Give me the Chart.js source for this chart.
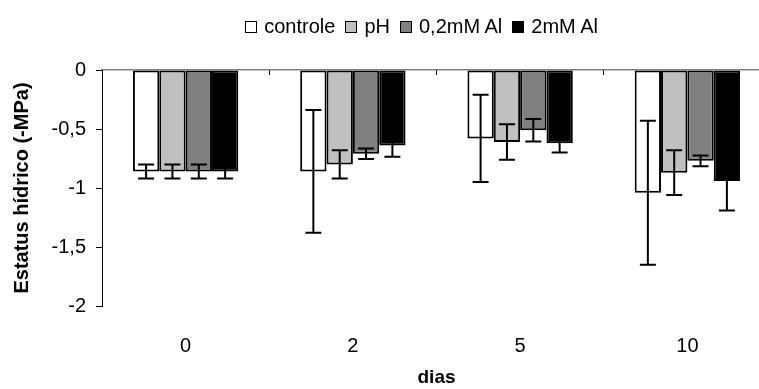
<!DOCTYPE html>
<html lang="pt">
<head>
    <meta charset="UTF-8">
    <title>Estatus hídrico</title>
    <script src="https://cdn.jsdelivr.net/npm/chart.js"></script>
    <style>
        html, body {
            margin: 0;
            padding: 0;
            width: 759px;
            height: 389px;
            overflow: hidden;
            background: #fff;
            font-family: "Liberation Sans", Arial, sans-serif;
        }
        #wrap {
            position: relative;
            width: 771px;
            height: 389px;
        }
        #legend {
            position: absolute;
            top: 14px;
            right: 173px;
            font-size: 20px;
            line-height: 24px;
            color: #000;
            white-space: nowrap;
        }
        #legend span.box {
            display: inline-block;
            width: 10px;
            height: 10px;
            border: 1.5px solid #000;
            margin-right: 7px;
            vertical-align: 0px;
        }
        #legend span.item {
            margin-left: 10px;
        }
    </style>
</head>
<body>
    <div id="wrap">
        <canvas id="chart" width="771" height="389"></canvas>
        <div id="legend"></div>
    </div>

    <script>
        // categories (days)
        const dias = ['0', '2', '5', '10'];
        const seriesNames = ['controle', 'pH', '0,2mM Al', '2mM Al'];
        const seriesColors = ['#ffffff', '#c0c0c0', '#808080', '#000000'];

        // water status (-MPa) and error bars
        const controle = [-0.86, -0.86, -0.58, -1.04];
        const controleErr = [0.06, 0.52, 0.37, 0.61];
        const ph = [-0.86, -0.80, -0.61, -0.87];
        const phErr = [0.06, 0.12, 0.15, 0.19];
        const al02 = [-0.86, -0.71, -0.51, -0.77];
        const al02Err = [0.06, 0.045, 0.095, 0.045];
        const al2 = [-0.86, -0.64, -0.62, -0.94];
        const al2Err = [0.06, 0.095, 0.08, 0.25];

        const values = [controle, ph, al02, al2];
        const errors = [controleErr, phErr, al02Err, al2Err];

        // legend
        const legendDiv = document.getElementById('legend');
        legendDiv.innerHTML = seriesNames.map((name, i) =>
            `<span class="item"><span class="box" style="background:${seriesColors[i]}"></span>${name}</span>`
        ).join('');

        const errorBars = {
            id: 'errorBars',
            afterDatasetsDraw(chart) {
                const ctx = chart.ctx;
                const yScale = chart.scales.y;
                ctx.save();
                ctx.strokeStyle = '#000';
                ctx.lineWidth = 2;
                chart.data.datasets.forEach((ds, di) => {
                    const meta = chart.getDatasetMeta(di);
                    meta.data.forEach((bar, i) => {
                        const v = ds.data[i];
                        const e = errors[di][i];
                        const yTop = yScale.getPixelForValue(v + e);
                        const yBot = yScale.getPixelForValue(v - e);
                        const x = bar.x;
                        ctx.beginPath();
                        ctx.moveTo(x, yTop);
                        ctx.lineTo(x, yBot);
                        ctx.moveTo(x - 8, yTop);
                        ctx.lineTo(x + 8, yTop);
                        ctx.moveTo(x - 8, yBot);
                        ctx.lineTo(x + 8, yBot);
                        ctx.stroke();
                    });
                });
                ctx.restore();
            }
        };

        const fontFamily = '"Liberation Sans", Arial, sans-serif';

        new Chart(document.getElementById('chart').getContext('2d'), {
            type: 'bar',
            data: {
                labels: dias,
                datasets: seriesNames.map((name, i) => ({
                    label: name,
                    data: values[i],
                    backgroundColor: seriesColors[i],
                    borderColor: '#000',
                    borderWidth: 2,
                    borderSkipped: false,
                    categoryPercentage: 0.63,
                    barPercentage: 1.0
                }))
            },
            options: {
                responsive: false,
                animation: false,
                layout: { padding: 0 },
                plugins: {
                    legend: { display: false },
                    tooltip: { enabled: false }
                },
                scales: {
                    x: {
                        position: 'bottom',
                        offset: true,
                        grid: { display: false },
                        border: { display: false },
                        ticks: {
                            color: '#000',
                            padding: 20,
                            font: { family: fontFamily, size: 20 }
                        },
                        title: {
                            display: true,
                            text: 'dias',
                            color: '#000',
                            padding: { top: 0, bottom: 0 },
                            font: { family: fontFamily, size: 19, weight: 'bold' }
                        },
                        afterFit(s) { s.height = 83; }
                    },
                    x2: {
                        position: 'top',
                        type: 'category',
                        offset: true,
                        ticks: { display: false },
                        grid: {
                            offset: true,
                            drawOnChartArea: false,
                            tickLength: -5,
                            color: '#000',
                            lineWidth: 1
                        },
                        border: { color: '#808080', width: 1.5 },
                        afterFit(s) { s.height = 70; }
                    },
                    y: {
                        min: -2,
                        max: 0,
                        ticks: {
                            stepSize: 0.5,
                            color: '#000',
                            padding: 10,
                            font: { family: fontFamily, size: 20 },
                            callback: v => String(v).replace('.', ',')
                        },
                        grid: {
                            drawOnChartArea: false,
                            tickLength: 6,
                            color: '#000'
                        },
                        border: { color: '#000', width: 1 },
                        title: {
                            display: true,
                            text: 'Estatus hídrico (-MPa)',
                            color: '#000',
                            padding: { top: 10, bottom: 0 },
                            font: { family: fontFamily, size: 20, weight: 'bold' }
                        },
                        afterFit(s) { s.width = 102; }
                    }
                }
            },
            plugins: [errorBars]
        });
    </script>
</body>
</html>
